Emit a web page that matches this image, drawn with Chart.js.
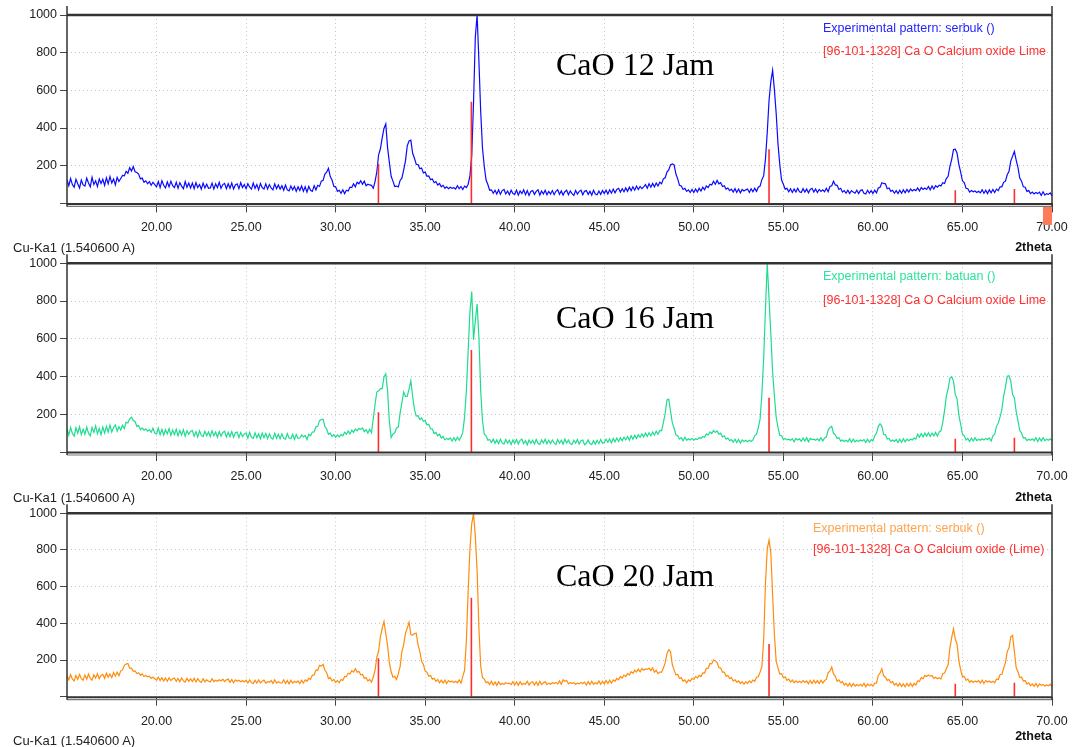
<!DOCTYPE html>
<html>
<head>
<meta charset="utf-8">
<title>XRD CaO</title>
<script src="https://cdn.jsdelivr.net/npm/chart.js@4.4.1/dist/chart.umd.min.js"></script>
<style>
  body { margin: 0; width: 1073px; height: 747px; background: #fff; position: relative; overflow: hidden;
         font-family: "Liberation Sans", Arial, sans-serif; }
  canvas { position: absolute; left: 0; }
  .lbl { position: absolute; white-space: nowrap; line-height: 15px; font-size: 12.5px; }
  .wave { font-size: 13px; color: #222; }
  .axt { font-size: 12.5px; font-weight: bold; color: #111; }
  .big { position: absolute; white-space: nowrap; font-family: "Liberation Serif", "Times New Roman", serif;
         font-size: 32px; line-height: 32px; color: #000; }
</style>
</head>
<body>
<canvas id="p1" width="1073" height="250" style="top:0px"></canvas>
<canvas id="p2" width="1073" height="250" style="top:250px"></canvas>
<canvas id="p3" width="1073" height="247" style="top:500px"></canvas>

<div class="lbl" style="left:823px;top:21px;color:#2424ff">Experimental pattern: serbuk ()</div>
<div class="lbl" style="left:823px;top:44px;color:#ff3030">[96-101-1328] Ca O Calcium oxide Lime</div>
<div class="big" style="left:556px;top:48px">CaO 12 Jam</div>
<div class="lbl wave" style="left:13px;top:239.5px">Cu-Ka1 (1.540600 A)</div>
<div class="lbl axt" style="right:21px;top:240px">2theta</div>

<div class="lbl" style="left:823px;top:269px;color:#2ee39c">Experimental pattern: batuan ()</div>
<div class="lbl" style="left:823px;top:292.5px;color:#ff3030">[96-101-1328] Ca O Calcium oxide Lime</div>
<div class="big" style="left:556px;top:301px">CaO 16 Jam</div>
<div class="lbl wave" style="left:13px;top:489.5px">Cu-Ka1 (1.540600 A)</div>
<div class="lbl axt" style="right:21px;top:490px">2theta</div>

<div class="lbl" style="left:813px;top:520.5px;color:#ffa44e">Experimental pattern: serbuk ()</div>
<div class="lbl" style="left:813px;top:542px;color:#ff3030">[96-101-1328] Ca O Calcium oxide (Lime)</div>
<div class="big" style="left:556px;top:559px">CaO 20 Jam</div>
<div class="lbl wave" style="left:13px;top:733px">Cu-Ka1 (1.540600 A)</div>
<div class="lbl axt" style="right:21px;top:729px">2theta</div>

<div style="position:absolute;left:1043px;top:207px;width:9px;height:18px;background:#ff7a58"></div>

<script>
// scan grid: 2theta from 15.00 to 70.00, step 0.1
const scanStart = 15.0;
const scanStep = 0.1;

// CaO 12 Jam (serbuk), one row per degree
const intensity12 = [
  126,94,132,100,86,128,104,82,124,98,
  92,134,108,88,138,100,120,90,130,106,
  128,96,136,104,142,108,130,98,138,116,
  132,148,146,170,160,190,172,196,168,164,
  156,130,134,112,120,104,116,96,112,100,
  88,116,84,120,96,82,114,88,118,94,
  84,112,80,110,92,78,116,86,108,82,
  108,78,110,84,100,76,108,82,102,80,
  82,108,76,104,84,112,80,100,106,78,
  104,80,108,76,98,104,78,110,84,100,
  78,104,86,76,108,80,100,72,106,84,
  76,104,76,100,82,72,104,78,98,76,
  94,70,98,72,66,92,72,90,64,88,
  68,92,64,88,60,90,70,64,94,72,
  96,90,118,122,156,166,186,142,124,90,
  88,64,70,54,72,52,70,66,86,84,
  104,88,112,104,120,102,118,94,102,98,
  96,80,116,168,258,290,348,398,422,296,
  218,144,118,90,92,88,122,134,178,226,
  306,332,336,266,240,208,206,184,188,162,
  166,144,146,126,130,110,116,98,106,88,
  96,80,88,78,86,80,84,76,94,78,
  90,74,92,84,102,146,256,536,884,1000,
  756,486,294,196,124,100,70,72,54,70,
  50,72,48,68,74,50,66,46,70,52,
  48,70,44,66,52,72,46,68,42,64,
  68,48,64,72,44,66,50,70,46,64,
  50,68,46,64,72,48,66,44,62,70,
  46,66,52,42,68,50,64,70,46,64,
  68,48,64,44,70,50,46,66,48,68,
  52,70,50,72,54,76,56,74,80,60,
  78,62,82,64,86,68,88,70,92,74,
  90,78,88,100,80,104,86,106,88,108,
  92,112,104,130,136,166,178,206,210,204,
  156,130,96,92,74,80,64,72,58,74,
  58,76,60,80,66,86,72,92,84,102,
  98,118,102,122,104,110,90,94,76,82,
  68,76,60,78,58,76,56,74,66,72,
  76,58,78,62,80,64,86,92,126,146,
  234,376,546,646,706,604,476,316,206,124,
  102,76,80,62,78,58,76,60,80,62,
  58,78,60,76,56,74,80,60,76,58,
  74,64,72,62,80,62,90,94,118,98,
  96,74,80,60,68,54,70,52,68,60,
  54,70,52,68,72,54,50,70,54,68,
  52,70,56,82,86,110,106,104,78,82,
  64,70,54,68,52,70,54,72,56,74,
  60,76,66,74,68,82,66,84,74,82,
  74,90,72,92,76,94,86,96,92,110,
  106,132,144,196,234,286,288,266,206,166,
  120,110,80,78,60,68,62,66,58,64,
  56,72,54,70,52,72,56,74,58,76,
  68,88,88,112,118,152,170,226,250,276,
  230,190,134,118,88,86,64,68,52,60,
  50,58,52,60,42,62,44,52,48,56,
  40
];

// CaO 16 Jam (batuan)
const intensity16 = [
  124,90,130,98,84,128,100,134,92,120,
  94,132,100,86,130,104,138,96,124,92,
  132,100,136,106,142,106,130,144,110,134,
  116,142,124,158,154,176,184,166,162,136,
  140,118,128,116,122,110,118,104,126,100,
  96,126,92,120,90,118,96,124,88,116,
  92,120,86,114,90,118,84,112,94,110,
  114,84,108,80,112,88,82,110,86,106,
  82,112,86,106,78,108,84,104,110,80,
  104,82,108,78,102,106,76,104,82,96,
  100,74,104,78,72,102,76,96,70,100,
  76,98,70,96,74,68,100,72,94,70,
  96,72,68,98,74,70,94,66,92,72,
  74,90,80,88,66,94,86,106,106,134,
  136,166,172,174,134,122,94,100,82,92,
  78,90,80,92,86,104,94,112,96,116,
  104,122,112,124,120,128,108,118,100,120,
  102,174,252,318,324,336,336,398,414,324,
  162,76,96,102,128,132,206,262,318,294,
  296,334,378,294,226,190,192,172,180,162,
  168,144,146,122,122,98,104,86,94,74,
  82,64,72,66,74,58,76,60,78,62,
  80,104,186,324,536,744,850,594,696,784,
  606,324,166,94,86,62,66,50,68,46,
  64,44,68,48,42,66,46,62,40,64,
  46,66,42,62,68,44,60,38,64,46,
  62,42,66,46,40,64,48,68,44,62,
  44,64,48,40,66,46,62,42,68,48,
  64,44,40,62,46,66,42,60,64,38,
  46,64,44,40,60,42,62,44,66,46,
  50,68,52,70,48,72,54,74,56,76,
  60,78,64,82,62,86,68,88,72,92,
  78,96,80,100,82,102,86,106,90,110,
  94,114,112,156,204,276,280,216,154,126,
  90,86,68,76,60,78,62,70,64,72,
  62,70,66,76,72,82,78,96,90,106,
  98,114,104,112,94,100,80,86,68,74,
  60,66,52,68,50,66,48,64,56,62,
  54,62,56,64,86,94,128,174,306,494,
  756,1000,814,626,424,296,184,131,89,86,
  66,72,64,68,62,70,54,72,64,70,
  56,74,58,76,54,72,66,68,62,70,
  60,76,58,74,79,116,129,136,99,91,
  72,76,58,64,56,62,54,70,52,68,
  54,62,56,64,58,66,50,68,52,66,
  58,86,99,136,149,136,94,91,69,72,
  56,64,56,66,50,68,52,70,54,68,
  60,68,64,74,68,94,78,98,80,100,
  84,102,82,100,86,104,84,106,112,156,
  219,296,334,391,399,376,304,281,194,146,
  94,86,64,72,56,74,58,76,60,68,
  62,70,64,72,66,74,58,86,94,136,
  154,186,224,296,344,401,404,376,304,286,
  214,166,114,101,74,76,60,68,62,70,
  60,76,56,74,58,76,60,68,62,70,
  60
];

// CaO 20 Jam (serbuk)
const intensity20 = [
  114,92,120,96,86,116,94,122,98,90,
  118,96,124,100,90,120,102,126,98,116,
  122,100,128,106,124,104,132,112,134,114,
  141,146,171,178,181,156,156,138,141,126,
  131,116,124,110,116,108,112,100,106,98,
  90,106,88,104,86,102,84,104,88,98,
  102,84,100,82,102,86,80,100,84,98,
  82,100,80,98,84,78,98,82,92,84,
  80,98,82,90,84,92,86,96,82,92,
  96,78,94,76,92,84,90,82,88,80,
  90,74,92,76,72,90,74,92,76,84,
  90,74,82,78,88,72,92,74,82,76,
  74,92,72,88,70,90,74,84,78,86,
  72,90,74,92,84,100,94,118,119,146,
  144,171,167,176,144,131,99,104,86,94,
  79,88,76,94,89,110,109,128,124,142,
  134,152,134,138,119,121,99,104,86,94,
  79,106,144,216,249,326,374,410,344,279,
  184,136,106,111,94,126,164,246,284,346,
  374,406,339,336,344,346,284,246,194,176,
  139,134,112,116,96,101,84,94,76,90,
  74,90,72,88,80,86,78,84,76,92,
  74,111,144,306,574,806,944,1000,874,686,
  374,166,104,96,76,81,66,84,64,80,
  62,82,66,72,68,76,72,74,66,82,
  64,80,62,82,66,72,68,84,64,78,
  82,64,80,62,84,66,76,82,66,74,
  68,76,72,78,70,86,68,92,84,88,
  70,78,72,76,68,74,70,78,72,80,
  64,82,66,84,68,76,70,86,68,84,
  70,88,72,90,74,92,84,100,92,110,
  102,118,110,126,118,136,128,144,134,150,
  136,154,144,152,149,156,142,158,134,144,
  126,134,134,156,184,236,256,246,174,146,
  119,121,99,104,84,92,76,92,84,100,
  94,110,102,116,110,130,129,154,154,181,
  179,201,194,186,159,156,134,134,112,116,
  99,104,86,92,79,86,72,82,68,82,
  72,86,76,91,84,106,109,134,164,306,
  614,806,854,786,554,336,194,156,124,126,
  104,108,89,96,80,91,76,86,78,84,
  76,88,78,86,70,88,72,90,74,88,
  72,90,74,88,94,131,139,161,124,111,
  84,92,76,82,64,72,58,74,56,72,
  58,66,60,68,58,74,54,70,60,68,
  58,74,74,116,129,152,114,106,89,94,
  76,82,64,72,58,74,56,70,54,72,
  58,74,56,72,64,86,84,104,98,116,
  110,118,112,116,100,106,98,104,96,126,
  129,152,174,266,324,370,314,286,194,146,
  109,111,89,96,79,88,78,86,80,88,
  74,90,72,88,80,86,78,84,76,96,
  94,121,121,156,184,246,267,326,334,246,
  158,136,104,106,85,88,69,76,60,70,
  56,72,54,70,62,66,58,64,60,68,
  54
];

// reference pattern 96-101-1328 (CaO) stick positions and heights
const refPeaks = [32.39, 37.58, 54.2, 64.6, 67.9];
const refHeights = [210, 540, 288, 70, 76];

const xTickValues = [20, 25, 30, 35, 40, 45, 50, 55, 60, 65, 70];

const tickFont = { family: "'Liberation Sans', Arial, sans-serif", size: 12.5 };

function toPoints(arr) {
  return arr.map((v, i) => ({ x: Math.round((scanStart + i * scanStep) * 100) / 100, y: v }));
}

function stickPoints() {
  let pts = [];
  refPeaks.forEach((p, i) => {
    pts.push({ x: p, y: 0 }, { x: p, y: refHeights[i] }, { x: p, y: null });
  });
  return pts;
}

// frame around the plot: heavy top and bottom, thin sides
const framePlugin = {
  id: 'frame',
  afterDraw(chart) {
    const { ctx, chartArea: a } = chart;
    ctx.save();
    ctx.strokeStyle = '#333';
    ctx.lineWidth = 2.5;
    ctx.beginPath();
    ctx.moveTo(a.left, a.top);
    ctx.lineTo(a.right, a.top);
    ctx.stroke();
    ctx.lineWidth = 2;
    ctx.beginPath();
    ctx.moveTo(a.left, a.bottom + 0.5);
    ctx.lineTo(a.right, a.bottom + 0.5);
    ctx.stroke();
    ctx.strokeStyle = '#777';
    ctx.lineWidth = 1.2;
    ctx.beginPath();
    ctx.moveTo(a.left, a.bottom + 3);
    ctx.lineTo(a.right, a.bottom + 3);
    ctx.stroke();
    ctx.strokeStyle = '#333';
    ctx.lineWidth = 1.5;
    ctx.beginPath();
    ctx.moveTo(a.left, a.top - 9);
    ctx.lineTo(a.left, a.bottom + 3);
    ctx.moveTo(a.right, a.top - 9);
    ctx.lineTo(a.right, a.bottom + 3);
    ctx.stroke();
    ctx.restore();
  }
};

const panels = [
  { id: 'p1', values: intensity12, color: '#0a0aff', top: 0, height: 250, areaTop: 15, areaBottom: 203.4 },
  { id: 'p2', values: intensity16, color: '#1edc90', top: 250, height: 250, areaTop: 263.3, areaBottom: 452 },
  { id: 'p3', values: intensity20, color: '#ff8c0a', top: 500, height: 247, areaTop: 513.3, areaBottom: 696.7 }
];

panels.forEach((p) => {
  const ctx = document.getElementById(p.id).getContext('2d');
  new Chart(ctx, {
    type: 'line',
    data: {
      datasets: [
        {
          data: stickPoints(),
          borderColor: '#ff2d2d',
          borderWidth: 1.6,
          pointRadius: 0,
          spanGaps: false,
          order: 0
        },
        {
          data: toPoints(p.values),
          borderColor: p.color,
          borderWidth: 1.2,
          pointRadius: 0,
          tension: 0,
          order: 1
        }
      ]
    },
    options: {
      responsive: false,
      animation: false,
      events: [],
      layout: { padding: { left: 0, right: 21, top: p.areaTop - p.top, bottom: 0 } },
      plugins: { legend: { display: false }, tooltip: { enabled: false } },
      scales: {
        x: {
          type: 'linear',
          min: 15,
          max: 70,
          afterBuildTicks: (ax) => { ax.ticks = xTickValues.map((v) => ({ value: v })); },
          afterFit: (ax) => {
            ax.height = p.top + p.height - p.areaBottom;
            ax.paddingLeft = 0;
            ax.paddingRight = 0;
          },
          ticks: {
            callback: (v) => Number(v).toFixed(2),
            color: '#222',
            font: tickFont,
            padding: 8,
            maxRotation: 0,
            autoSkip: false
          },
          grid: { color: '#c4c4c4', tickColor: '#444', tickLength: 9, lineWidth: 1 },
          border: { display: false, dash: [1, 3] }
        },
        y: {
          min: 0,
          max: 1000,
          afterFit: (ax) => { ax.width = 67; },
          ticks: {
            stepSize: 200,
            callback: (v) => (v === 0 ? '' : v),
            color: '#222',
            font: tickFont,
            padding: 3
          },
          grid: { color: '#c4c4c4', tickColor: '#444', tickLength: 7, lineWidth: 1 },
          border: { display: false, dash: [1, 3] }
        }
      }
    },
    plugins: [framePlugin]
  });
});
</script>
</body>
</html>
